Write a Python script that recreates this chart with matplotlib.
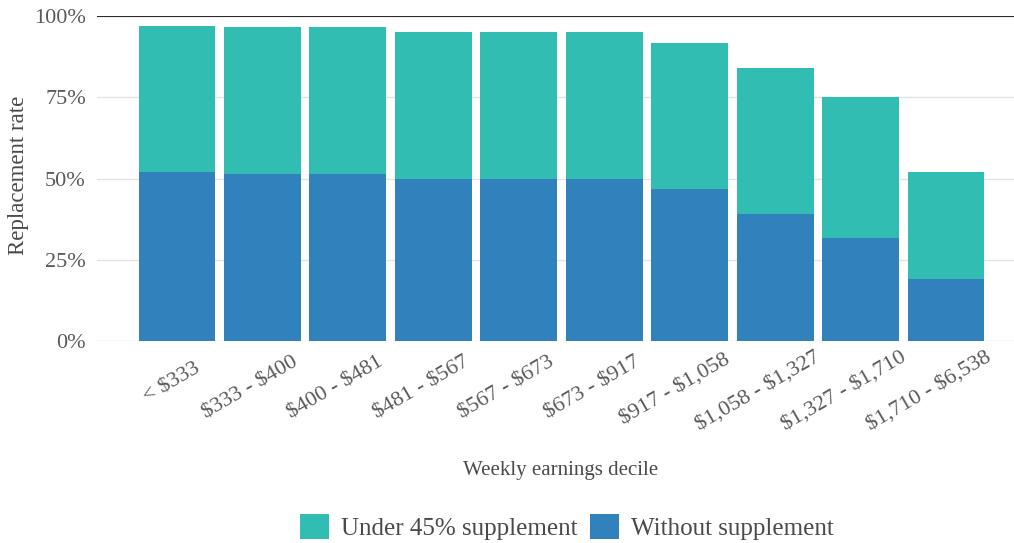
import matplotlib.pyplot as plt
import matplotlib.transforms as mtransforms
import numpy as np

# Replacement rates by weekly earnings decile
deciles = ['< $333', '$333 - $400', '$400 - $481', '$481 - $567', '$567 - $673',
           '$673 - $917', '$917 - $1,058', '$1,058 - $1,327', '$1,327 - $1,710',
           '$1,710 - $6,538']
without_supp = [0.519, 0.515, 0.514, 0.500, 0.500, 0.500, 0.467, 0.391, 0.316, 0.190]
with_supp = [0.970, 0.965, 0.965, 0.951, 0.950, 0.950, 0.917, 0.840, 0.751, 0.520]

TEAL = '#31BDB1'
BLUE = '#3181BD'
TXT = '#4a4a4a'

plt.rcParams['font.family'] = ['Liberation Serif', 'DejaVu Serif']
plt.rcParams['text.parse_math'] = False

fig = plt.figure(figsize=(10.14, 5.43), dpi=100)
ax = fig.add_axes([97 / 1014, 1 - 341 / 543, 1 - 97 / 1014, (341 - 16) / 543])

x = np.arange(len(deciles))
ax.bar(x, with_supp, width=0.9, color=TEAL, label='Under 45% supplement', zorder=2)
ax.bar(x, without_supp, width=0.9, color=BLUE, label='Without supplement', zorder=3)

ax.set_xlim(-0.936, 9.796)
ax.set_ylim(0, 1)
ax.set_yticks([0, 0.25, 0.5, 0.75, 1.0])
ax.set_yticklabels(['0%', '25%', '50%', '75%', '100%'])
ax.grid(axis='y', color='#e3e3e3', linewidth=1, zorder=0)
ax.axhline(1.0, color='#2b2b2b', linewidth=1.5, zorder=4)
for s in ax.spines.values():
    s.set_visible(False)
ax.tick_params(length=0, labelsize=16, labelcolor='#5a5a5a')
ax.tick_params(axis='y', pad=8)

ax.set_xticks(x)
ax.set_xticklabels(deciles, rotation=30, ha='right', va='top',
                   rotation_mode='anchor')
ax.set_ylabel('Replacement rate', fontsize=16.5, color=TXT)
ax.yaxis.set_label_coords(-0.074, 0.51)
ax.set_xlabel('Weekly earnings decile', fontsize=15, color=TXT)
ax.xaxis.set_label_coords(0.506, -0.37)

# shift each rotated label so its anchor sits ~2/3 along the text
fig.canvas.draw()
renderer = fig.canvas.get_renderer()
ang = np.deg2rad(30)
for lab in ax.get_xticklabels():
    lab.set_rotation(0)
    w = lab.get_window_extent(renderer).width
    lab.set_rotation(30)
    d = 0.32 * w
    off = mtransforms.ScaledTranslation(d * np.cos(ang) / 100, d * np.sin(ang) / 100 - 0.24,
                                        fig.dpi_scale_trans)
    lab.set_transform(lab.get_transform() + off)

handles, labels = ax.get_legend_handles_labels()
fig.legend(handles, labels, loc='center', bbox_to_anchor=(567 / 1014, 1 - 527 / 543),
           ncol=2, frameon=False, fontsize=18, handlelength=1.15, handleheight=1.15,
           handletextpad=0.48, columnspacing=0.52, labelcolor=TXT)

fig.savefig('out.png', dpi=100)
